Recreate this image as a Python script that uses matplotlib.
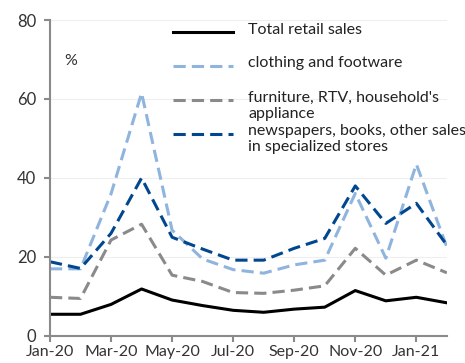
import matplotlib.pyplot as plt

# Miesiące: Jan-20 .. Feb-21
months = ['Jan-20', 'Feb-20', 'Mar-20', 'Apr-20', 'May-20', 'Jun-20', 'Jul-20',
          'Aug-20', 'Sep-20', 'Oct-20', 'Nov-20', 'Dec-20', 'Jan-21', 'Feb-21']

total_retail = [5.5, 5.5, 8.0, 11.9, 9.1, 7.7, 6.5, 6.0, 6.8, 7.3, 11.5, 8.9, 9.8, 8.4]
clothing = [17.0, 17.0, 36.0, 61.5, 26.8, 19.5, 16.8, 15.9, 18.0, 19.2, 36.1, 19.7, 43.5, 22.5]
furniture = [9.8, 9.5, 24.3, 28.3, 15.4, 13.8, 11.0, 10.8, 11.6, 12.7, 22.2, 15.4, 19.2, 16.0]
newspapers = [18.8, 17.1, 26.0, 40.0, 25.0, 22.0, 19.2, 19.2, 22.2, 24.7, 38.0, 28.5, 33.6, 23.0]

labels = ['Total retail sales',
          'clothing and footware',
          "furniture, RTV, household's\nappliance",
          'newspapers, books, other sales\nin specialized stores']

plt.rcParams['font.family'] = ['Lato', 'DejaVu Sans']

fig = plt.figure(figsize=(4.65, 3.63), dpi=100)
ax = fig.add_axes([0.1075, 0.0744, 0.8535, 0.8705])

x = list(range(len(months)))
styles = [
    dict(color='black', lw=2.2),
    dict(color='#8fb4de', lw=2.2, dashes=(4, 2)),
    dict(color='#8a8a8a', lw=2.2, dashes=(4, 2)),
    dict(color='#00478f', lw=2.2, dashes=(4, 2)),
]

# kolejność rysowania jak w oryginale
for s, st in zip([furniture, clothing, newspapers, total_retail],
                 [styles[2], styles[1], styles[3], styles[0]]):
    ax.plot(x, s, **st)

ax.set_xlim(0, len(months) - 1)
ax.set_ylim(0, 80)
ax.set_yticks([0, 20, 40, 60, 80])
ax.set_xticks(x[::2])
ax.set_xticklabels(months[::2])

ax.grid(axis='y', color='#eeeeee', lw=0.8)
ax.set_axisbelow(True)
for side in ['top', 'right']:
    ax.spines[side].set_visible(False)
for side in ['left', 'bottom']:
    ax.spines[side].set_color('#8a8a8a')
    ax.spines[side].set_linewidth(1.5)
ax.tick_params(axis='both', colors='#8a8a8a', length=4, width=1.5,
               labelcolor='#333333', labelsize=12)
ax.tick_params(axis='y', pad=6)
ax.tick_params(axis='x', pad=2.5, labelsize=11.5)

ax.text(0.035, 0.87, '%', transform=ax.transAxes, fontsize=11.5,
        color='#333333', va='center', ha='left')

# Legenda rysowana ręcznie (wpisy dwuwierszowe zachodzą na siebie jak w oryginale)
leg_y = [0.962, 0.855, 0.747, 0.64]
for yy, st, lab in zip(leg_y, styles, labels):
    ax.plot([0.31, 0.462], [yy, yy], transform=ax.transAxes, clip_on=False, **st)
    ax.text(0.499, yy + 0.03, lab, transform=ax.transAxes, fontsize=11.5,
            color='#222222', va='top', ha='left', linespacing=1.2)

fig.savefig('out.png', dpi=100)
